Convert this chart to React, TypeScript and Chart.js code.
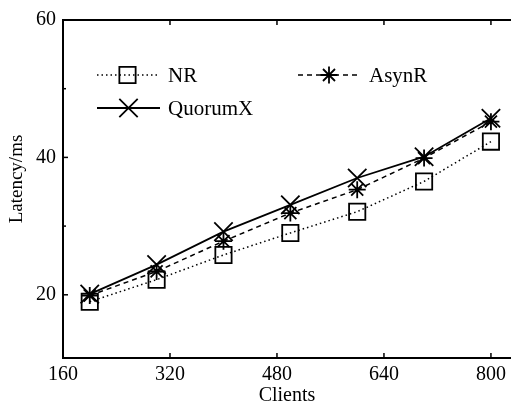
import React, { useEffect, useRef } from 'react';
import { Chart, registerables } from 'chart.js';
Chart.register(...registerables);

const clients = [200, 300, 400, 500, 600, 700, 800];
const nrLatency = [19.0, 22.2, 25.8, 29.0, 32.1, 36.5, 42.3];
const asynrLatency = [19.9, 23.4, 27.8, 31.9, 35.3, 39.9, 45.2];
const quorumxLatency = [20.1, 24.4, 29.2, 33.1, 37.0, 40.1, 45.7];
const xTicks = [160, 320, 480, 640, 800];
const yTicks = [20, 40, 60];
const yMinorTicks = [30, 50];
const seriesNames = ['NR', 'AsynR', 'QuorumX'];
const xTitle = 'Clients';
const yTitle = 'Latency/ms';

const FONT = '"Liberation Serif", "Times New Roman", serif';

function drawMarker(ctx: CanvasRenderingContext2D, style: string, x: number, y: number, r: number) {
  ctx.beginPath();
  if (style === 'rect') {
    const s = Math.SQRT1_2 * r;
    ctx.rect(x - s, y - s, 2 * s, 2 * s);
  } else if (style === 'crossRot') {
    const o = Math.SQRT1_2 * r;
    ctx.moveTo(x - o, y - o); ctx.lineTo(x + o, y + o);
    ctx.moveTo(x + o, y - o); ctx.lineTo(x - o, y + o);
  } else if (style === 'star') {
    ctx.moveTo(x - r, y); ctx.lineTo(x + r, y);
    ctx.moveTo(x, y - r); ctx.lineTo(x, y + r);
    const o = Math.SQRT1_2 * r;
    ctx.moveTo(x - o, y - o); ctx.lineTo(x + o, y + o);
    ctx.moveTo(x + o, y - o); ctx.lineTo(x - o, y + o);
  }
  ctx.stroke();
}

const framePlugin = {
  id: 'frame',
  afterDraw(chart: any) {
    const ctx: CanvasRenderingContext2D = chart.ctx;
    const { left, right, top, bottom } = chart.chartArea;
    const xs = chart.scales.x;
    const ys = chart.scales.y;
    ctx.save();
    ctx.strokeStyle = '#000';
    ctx.lineWidth = 2;
    ctx.setLineDash([]);
    // top border
    ctx.beginPath();
    ctx.moveTo(left - 1, top);
    ctx.lineTo(right, top);
    ctx.stroke();
    ctx.lineWidth = 1.5;
    // x ticks (bottom & top, inward)
    xTicks.forEach((v) => {
      const px = xs.getPixelForValue(v);
      if (px <= left + 1) return;
      ctx.beginPath();
      ctx.moveTo(px, bottom); ctx.lineTo(px, bottom - 5);
      ctx.moveTo(px, top); ctx.lineTo(px, top + 5);
      ctx.stroke();
    });
    // y ticks inward
    yTicks.forEach((v) => {
      const py = ys.getPixelForValue(v);
      ctx.beginPath();
      ctx.moveTo(left, py); ctx.lineTo(left + 5, py);
      ctx.stroke();
    });
    yMinorTicks.forEach((v) => {
      const py = ys.getPixelForValue(v);
      ctx.beginPath();
      ctx.moveTo(left, py); ctx.lineTo(left + 3, py);
      ctx.stroke();
    });
    // y title
    ctx.fillStyle = '#000';
    ctx.font = `19px ${FONT}`;
    ctx.textAlign = 'center';
    ctx.textBaseline = 'middle';
    ctx.translate(17, 179);
    ctx.rotate(-Math.PI / 2);
    ctx.fillText(yTitle, 0, 0);
    ctx.restore();

    // legend
    const items = [
      { i: 0, x0: 97, x1: 158, y: 75, tx: 168 },
      { i: 1, x0: 298, x1: 360, y: 75, tx: 369 },
      { i: 2, x0: 97, x1: 160, y: 108, tx: 168 },
    ];
    ctx.save();
    items.forEach((it) => {
      const ds = chart.data.datasets[it.i];
      ctx.strokeStyle = '#000';
      ctx.lineWidth = ds.borderWidth;
      ctx.setLineDash(ds.borderDash || []);
      ctx.beginPath();
      ctx.moveTo(it.x0, it.y);
      ctx.lineTo(it.x1, it.y);
      ctx.stroke();
      ctx.setLineDash([]);
      ctx.lineWidth = ds.pointBorderWidth;
      drawMarker(ctx, ds.pointStyle, (it.x0 + it.x1) / 2, it.y, ds.pointRadius);
      ctx.fillStyle = '#000';
      ctx.font = `21px ${FONT}`;
      ctx.textAlign = 'left';
      ctx.textBaseline = 'middle';
      ctx.fillText(ds.label, it.tx, it.y + 1);
    });
    ctx.restore();
  },
};

export default function App() {
  const ref = useRef<HTMLCanvasElement | null>(null);
  useEffect(() => {
    if (!ref.current) return;
    const mk = (v: number[]) => clients.map((c, i) => ({ x: c, y: v[i] }));
    const chart = new Chart(ref.current, {
      type: 'line',
      data: {
        datasets: [
          {
            label: seriesNames[0], data: mk(nrLatency), borderColor: '#000', borderWidth: 1.5,
            borderDash: [1.5, 3], pointStyle: 'rect', pointRadius: 11.5, pointBorderWidth: 1.8,
            pointBorderColor: '#000', pointBackgroundColor: 'rgba(0,0,0,0)', fill: false, tension: 0,
          },
          {
            label: seriesNames[1], data: mk(asynrLatency), borderColor: '#000', borderWidth: 1.5,
            borderDash: [5, 4], pointStyle: 'star', pointRadius: 8.5, pointBorderWidth: 1.8,
            pointBorderColor: '#000', pointBackgroundColor: 'rgba(0,0,0,0)', fill: false, tension: 0,
          },
          {
            label: seriesNames[2], data: mk(quorumxLatency), borderColor: '#000', borderWidth: 1.8,
            borderDash: [], pointStyle: 'crossRot', pointRadius: 13, pointBorderWidth: 1.8,
            pointBorderColor: '#000', pointBackgroundColor: 'rgba(0,0,0,0)', fill: false, tension: 0,
          },
        ] as any,
      },
      options: {
        responsive: false,
        animation: false,
        devicePixelRatio: 1,
        layout: { autoPadding: false, padding: { left: 0, right: 0, top: 20, bottom: 0 } },
        plugins: { legend: { display: false }, tooltip: { enabled: false } },
        scales: {
          x: {
            type: 'linear', min: 160, max: 830,
            afterBuildTicks: (s: any) => { s.ticks = xTicks.map((v) => ({ value: v })); },
            afterFit: (s: any) => { s.height = 50; s.paddingLeft = 0; s.paddingRight = 0; },
            grid: { display: false, drawTicks: false },
            border: { display: true, color: '#000', width: 2 },
            ticks: { color: '#000', font: { family: FONT, size: 20 }, padding: 5, maxRotation: 0 },
            title: { display: true, text: xTitle, color: '#000', font: { family: FONT, size: 20 }, padding: 0 },
          },
          y: {
            type: 'linear', min: 10.8, max: 60,
            afterBuildTicks: (s: any) => { s.ticks = yTicks.map((v) => ({ value: v })); },
            afterFit: (s: any) => { s.width = 63; },
            grid: { display: false, drawTicks: false },
            border: { display: true, color: '#000', width: 2 },
            ticks: { color: '#000', font: { family: FONT, size: 20 }, padding: 7 },
          },
        },
      } as any,
      plugins: [framePlugin],
    });
    return () => chart.destroy();
  }, []);
  return (
    <div style={{ position: 'absolute', left: 0, top: 0, width: 511, height: 408, background: '#fff' }}>
      <canvas ref={ref} width={511} height={408} />
    </div>
  );
}
